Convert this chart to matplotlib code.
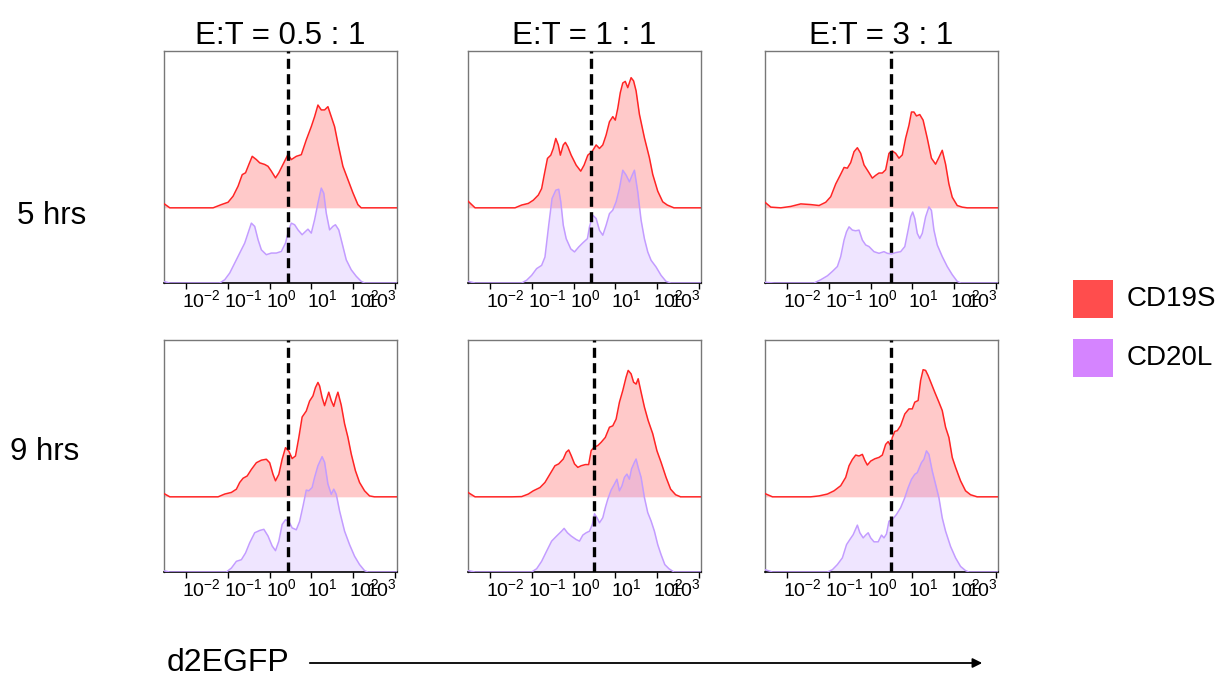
"""Flow histograms of d2EGFP: CD19S vs CD20L, E:T ratios x time points."""
import numpy as np
import matplotlib; matplotlib.use('Agg')
import matplotlib.pyplot as plt
from matplotlib.patches import Rectangle, FancyArrowPatch
from matplotlib.transforms import ScaledTranslation

plt.rcParams['font.family'] = ['Liberation Sans', 'DejaVu Sans']
plt.rcParams['mathtext.default'] = 'regular'

# ── data: x = log10(d2EGFP), y = % of panel height above each baseline ──
ratios = ['E:T = 0.5 : 1', 'E:T = 1 : 1', 'E:T = 3 : 1']
times = ['5 hrs', '9 hrs']
series_names = ['CD19S', 'CD20L']
tick_exp = [-2, -1, 0, 1, 2, 3]
tick_labels = ['$10^{-2}$', '$10^{-1}$', '$10^{0}$', '$10^{1}$', '$10^{2}$', '$10^{3}$']
gate_log = [[0.44, 0.42, 0.50], [0.45, 0.50, 0.50]]
red_offset = 32.4

# 5 hrs, E:T 0.5:1
r5a_x = [-2.54, -2.4, -1.36, -1.16, -1.0, -0.88, -0.76, -0.66, -0.58, -0.5, -0.42, -0.32, -0.24, -0.12,
         -0.04, 0.04, 0.14, 0.22, 0.32, 0.44, 0.52, 0.64, 0.76, 0.88, 1.0, 1.08, 1.16, 1.24, 1.32, 1.4,
         1.48, 1.56, 1.64, 1.76, 1.88, 2.0, 2.12, 2.2, 3.1]
r5a_y = [1.8, 0, 0, 1.4, 2.4, 5.0, 9.3, 14.3, 15.1, 18.7, 22.2, 20.8, 19.4, 18.7,
         17.9, 15.8, 12.9, 15.1, 18.7, 23.0, 20.8, 22.2, 22.9, 29.3, 35.0, 39.3, 44.3, 42.2, 42.2, 43.6,
         39.3, 35.0, 27.8, 17.9, 12.2, 6.5, 1.4, 0, 0]
p5a_x = [-2.54, -2.4, -1.2, -1.08, -0.96, -0.84, -0.72, -0.6, -0.52, -0.44, -0.36, -0.28, -0.2, -0.08,
         0.04, 0.16, 0.28, 0.38, 0.46, 0.52, 0.6, 0.68, 0.78, 0.86, 0.92, 1.0, 1.08, 1.16, 1.24, 1.3,
         1.36, 1.44, 1.52, 1.58, 1.66, 1.74, 1.84, 1.96, 2.08, 2.2, 2.28, 3.1]
p5a_y = [0.6, 0, 0, 1.4, 4.3, 8.6, 12.9, 17.2, 21.5, 25.8, 24.4, 18.7, 14.3, 12.2,
         12.9, 12.9, 13.6, 17.2, 22.9, 25.8, 25.1, 22.9, 20.8, 22.2, 23.2, 21.5, 27.3, 34.4, 40.9, 38.7,
         30.1, 22.9, 24.4, 25.1, 22.9, 17.2, 10.0, 5.7, 2.9, 0.7, 0, 0]

# 5 hrs, E:T 1:1
r5b_x = [-2.54, -2.37, -1.41, -1.25, -1.09, -0.97, -0.85, -0.77, -0.71, -0.63, -0.55, -0.49, -0.43, -0.37,
         -0.32, -0.25, -0.2, -0.14, -0.06, 0.06, 0.17, 0.25, 0.34, 0.44, 0.54, 0.62, 0.7, 0.78, 0.86,
         0.94, 1.0, 1.06, 1.12, 1.18, 1.24, 1.3, 1.38, 1.44, 1.5, 1.58, 1.7, 1.82, 1.9, 2.02, 2.14,
         2.25, 2.41, 3.1]
r5b_y = [2.9, 0, 0, 1.2, 1.9, 3.3, 5.5, 8.3, 14.0, 21.3, 22.7, 25.6, 29.9, 27.1,
         22.7, 27.1, 28.2, 26.3, 22.7, 18.4, 15.8, 18.4, 22.7, 24.2, 27.1, 25.6, 27.1, 31.4, 37.1,
         39.3, 37.8, 42.9, 49.6, 53.8, 54.5, 51.8, 56.1, 54.7, 50.4, 40.3, 30.2, 21.6, 14.4, 7.2, 2.6,
         1.2, 0, 0]
p5b_x = [-2.54, -2.37, -1.25, -1.13, -1.01, -0.89, -0.77, -0.69, -0.6, -0.52, -0.43, -0.36, -0.31, -0.25,
         -0.18, -0.07, 0.02, 0.12, 0.22, 0.33, 0.38, 0.46, 0.54, 0.62, 0.7, 0.78, 0.86, 0.94, 1.02,
         1.1, 1.18, 1.26, 1.34, 1.39, 1.46, 1.54, 1.62, 1.7, 1.78, 1.86, 1.98, 2.1, 2.22, 2.33, 3.1]
p5b_y = [0.7, 0, 0, 1.2, 3.3, 6.2, 7.6, 11.2, 24.9, 36.4, 40.0, 40.4, 35.0, 24.9,
         19.1, 14.7, 13.4, 15.5, 17.3, 19.1, 24.2, 29.2, 27.8, 22.7, 20.6, 24.9, 29.9, 31.4, 35.0,
         40.7, 48.6, 46.5, 43.6, 45.8, 48.6, 39.3, 27.1, 19.1, 13.4, 9.8, 6.9, 3.3, 0.7, 0, 0]

# 5 hrs, E:T 3:1
r5c_x = [-2.54, -2.4, -2.16, -1.92, -1.68, -1.44, -1.24, -1.08, -0.96, -0.84, -0.72, -0.64, -0.56, -0.48,
         -0.4, -0.32, -0.24, -0.16, -0.06, 0.04, 0.12, 0.2, 0.28, 0.36, 0.44, 0.52, 0.6, 0.68, 0.76,
         0.84, 0.92, 0.98, 1.04, 1.1, 1.18, 1.26, 1.36, 1.46, 1.56, 1.64, 1.72, 1.8, 1.88, 1.96, 2.08,
         2.2, 2.32, 3.1]
r5c_y = [2.4, 0.3, 0, 0.6, 1.7, 1.4, 1.0, 2.4, 4.8, 10.3, 14.5, 17.4, 17.1, 19.5,
         24.2, 25.9, 23.5, 18.5, 15.7, 12.8, 14.0, 15.0, 15.0, 16.4, 23.5, 24.5, 23.5, 21.4, 22.8,
         30.0, 35.6, 41.3, 41.3, 39.6, 40.2, 37.8, 30.0, 21.4, 18.8, 21.7, 24.8, 18.8, 10.3, 4.6, 1.0,
         0.3, 0, 0]
p5c_x = [-2.54, -2.32, -1.36, -1.2, -1.04, -0.92, -0.8, -0.72, -0.64, -0.58, -0.52, -0.44, -0.36, -0.28,
         -0.2, -0.12, -0.04, 0.08, 0.2, 0.32, 0.4, 0.5, 0.6, 0.72, 0.82, 0.9, 0.96, 1.01, 1.06, 1.12,
         1.18, 1.24, 1.32, 1.4, 1.46, 1.52, 1.6, 1.72, 1.84, 1.96, 2.08, 2.16, 3.1]
p5c_y = [0.3, 0, 0, 1.4, 3.1, 5.0, 7.1, 11.4, 18.5, 22.1, 24.2, 22.8, 22.5, 22.8,
         18.5, 16.4, 15.7, 13.5, 12.8, 13.5, 12.8, 12.5, 13.1, 13.5, 15.7, 22.8, 28.5, 30.6, 27.8, 21.4,
         19.2, 21.4, 28.5, 32.8, 31.3, 22.8, 16.4, 11.4, 7.1, 3.6, 0.7, 0, 0]

# 9 hrs, E:T 0.5:1
r9a_x = [-2.54, -2.4, -1.24, -1.08, -0.92, -0.8, -0.72, -0.64, -0.54, -0.44, -0.32, -0.2, -0.08, 0.0,
         0.08, 0.14, 0.22, 0.3, 0.38, 0.46, 0.54, 0.62, 0.7, 0.78, 0.88, 0.96, 1.04, 1.1, 1.16, 1.2,
         1.26, 1.32, 1.38, 1.42, 1.48, 1.54, 1.6, 1.64, 1.72, 1.8, 1.88, 1.96, 2.06, 2.16, 2.28, 2.4,
         2.52, 3.1]
r9a_y = [1.4, 0, 0, 1.2, 1.9, 3.3, 6.2, 8.0, 9.0, 11.8, 14.7, 15.8, 16.2, 14.7,
         9.7, 6.9, 9.7, 16.2, 21.2, 19.7, 16.5, 17.6, 25.5, 34.4, 37.0, 41.3, 43.5, 47.1, 49.3, 47.8,
         42.8, 39.3, 42.8, 45.1, 41.5, 39.0, 43.0, 45.1, 39.5, 31.5, 25.7, 18.5, 11.3, 6.2, 2.6, 0.4,
         0, 0]
p9a_x = [-2.54, -2.4, -1.04, -0.92, -0.8, -0.68, -0.58, -0.48, -0.36, -0.24, -0.14, -0.04, 0.06, 0.14,
         0.22, 0.3, 0.38, 0.46, 0.54, 0.64, 0.72, 0.8, 0.88, 0.94, 1.02, 1.08, 1.16, 1.26, 1.32, 1.4,
         1.48, 1.54, 1.6, 1.68, 1.8, 1.92, 2.04, 2.16, 2.28, 2.36, 3.1]
p9a_y = [0.5, 0, 0, 1.7, 4.6, 5.3, 8.2, 12.6, 16.9, 17.9, 18.4, 15.5, 11.2, 9.2,
         13.3, 20.5, 22.5, 21.8, 19.0, 18.2, 21.8, 28.3, 35.3, 35.0, 36.4, 40.8, 45.8, 49.7, 47.3, 37.9,
         33.5, 35.7, 33.5, 26.3, 17.6, 11.8, 6.8, 3.2, 0.6, 0, 0]

# 9 hrs, E:T 1:1
r9b_x = [-2.54, -2.37, -1.49, -1.25, -1.09, -0.97, -0.81, -0.69, -0.57, -0.45, -0.36, -0.25, -0.18, -0.12,
         -0.06, 0.02, 0.1, 0.18, 0.28, 0.36, 0.42, 0.49, 0.58, 0.66, 0.76, 0.86, 0.94, 1.02, 1.1, 1.18,
         1.26, 1.31, 1.38, 1.44, 1.5, 1.55, 1.62, 1.7, 1.79, 1.9, 2.0, 2.1, 2.22, 2.33, 2.45, 2.57, 3.1]
r9b_y = [1.9, 0, 0, 0.1, 1.2, 2.6, 4.0, 6.2, 9.8, 13.4, 14.2, 16.3, 19.2, 20.2,
         17.8, 14.2, 12.7, 13.4, 13.9, 13.9, 19.9, 21.4, 22.1, 23.5, 25.6, 30.0, 30.6, 33.5, 40.8, 45.8,
         51.6, 54.5, 53.0, 49.4, 48.6, 50.9, 45.1, 38.7, 32.9, 27.2, 19.9, 14.9, 8.4, 3.3, 0.9, 0, 0]
p9b_x = [-2.54, -2.37, -1.01, -0.89, -0.77, -0.65, -0.53, -0.41, -0.29, -0.23, -0.15, -0.06, 0.06, 0.14,
         0.22, 0.3, 0.38, 0.45, 0.5, 0.56, 0.62, 0.7, 0.76, 0.82, 0.9, 0.98, 1.04, 1.1, 1.16, 1.22,
         1.28, 1.34, 1.39, 1.46, 1.5, 1.55, 1.62, 1.7, 1.78, 1.86, 1.94, 2.02, 2.1, 2.19, 2.29, 2.41, 3.1]
p9b_y = [0.6, 0, 0, 1.4, 4.6, 9.0, 13.3, 15.5, 17.6, 18.8, 16.9, 15.5, 14.0, 13.3,
         15.9, 16.9, 17.6, 20.5, 25.1, 23.4, 21.2, 23.4, 27.7, 31.4, 35.3, 37.9, 40.0, 35.0, 37.1, 40.8,
         42.2, 40.0, 44.4, 47.3, 48.7, 45.1, 40.8, 32.1, 25.6, 22.0, 17.6, 11.8, 7.5, 3.2, 1.4, 0, 0]

# 9 hrs, E:T 3:1
r9c_x = [-2.54, -2.36, -1.44, -1.24, -1.04, -0.88, -0.72, -0.6, -0.52, -0.44, -0.36, -0.28, -0.2, -0.14,
         -0.08, 0.0, 0.1, 0.2, 0.28, 0.36, 0.42, 0.48, 0.52, 0.58, 0.64, 0.72, 0.82, 0.92, 1.0, 1.06,
         1.14, 1.2, 1.26, 1.32, 1.38, 1.46, 1.54, 1.64, 1.72, 1.8, 1.88, 1.96, 2.04, 2.16, 2.28, 2.4,
         2.56, 3.1]
r9c_y = [1.4, 0, 0, 0.4, 1.2, 2.6, 4.8, 8.4, 13.4, 16.1, 18.0, 17.6, 18.3, 15.7,
         13.7, 15.4, 16.4, 17.0, 18.0, 22.6, 23.8, 22.0, 25.6, 28.2, 28.5, 30.7, 35.7, 37.9, 37.9, 40.8,
         41.5, 50.1, 54.8, 54.5, 52.3, 48.7, 45.1, 40.8, 37.2, 30.0, 25.6, 17.0, 12.7, 6.9, 2.6, 0.9,
         0, 0]
p9c_x = [-2.54, -2.36, -1.04, -0.92, -0.8, -0.68, -0.58, -0.5, -0.42, -0.32, -0.26, -0.18, -0.12, -0.06,
         0.0, 0.08, 0.18, 0.26, 0.32, 0.38, 0.44, 0.52, 0.62, 0.72, 0.82, 0.9, 0.98, 1.06, 1.12, 1.22,
         1.28, 1.34, 1.4, 1.48, 1.56, 1.64, 1.72, 1.8, 1.92, 2.04, 2.16, 2.28, 2.36, 3.1]
p9c_y = [1.0, 0, 0, 1.0, 3.2, 6.1, 11.8, 14.0, 16.1, 20.2, 16.9, 14.7, 15.9, 16.9,
         14.7, 13.0, 13.0, 15.9, 14.7, 16.4, 21.9, 22.6, 24.8, 27.7, 32.0, 36.3, 39.9, 42.1, 42.8, 47.1,
         48.6, 52.2, 50.7, 43.5, 37.8, 32.0, 23.3, 17.6, 11.0, 6.1, 2.4, 0.6, 0, 0]

red_curves = [[(r5a_x, r5a_y), (r5b_x, r5b_y), (r5c_x, r5c_y)],
              [(r9a_x, r9a_y), (r9b_x, r9b_y), (r9c_x, r9c_y)]]
pur_curves = [[(p5a_x, p5a_y), (p5b_x, p5b_y), (p5c_x, p5c_y)],
              [(p9a_x, p9a_y), (p9b_x, p9b_y), (p9c_x, p9c_y)]]

# ── style / layout ──
W, H = 1219, 677
RED_LINE, RED_FILL = '#ff2424', '#ffc9c9'
PUR_LINE, PUR_FILL = '#c39cff', '#a970ff'
LEG_COLORS = ['#ff4d4d', '#d584ff']
col_left = [164, 468, 765]
row_top = [51, 340]
PW, PH = 233, 232
XLIM = (10 ** -2.54, 10 ** 3.06)

def fig_box(x0, y0, w, h):
    return [x0 / W, 1 - (y0 + h) / H, w / W, h / H]

fig = plt.figure(figsize=(W / 100, H / 100), dpi=100)
fig.patch.set_facecolor('white')

for ri in range(2):
    for ci in range(3):
        ax = fig.add_axes(fig_box(col_left[ci], row_top[ri], PW, PH))
        rx, ry = red_curves[ri][ci]
        px_, py_ = pur_curves[ri][ci]
        rx = 10 ** np.array(rx); ry = red_offset + np.array(ry)
        px_ = 10 ** np.array(px_); py_ = np.array(py_)
        ax.fill_between(rx, red_offset, ry, color=RED_FILL, lw=0, zorder=1)
        ax.fill_between(px_, 0, py_, color=PUR_FILL, alpha=0.18, lw=0, zorder=2)
        ax.plot(rx, ry, color=RED_LINE, lw=1.1, zorder=3)
        ax.plot(px_, py_, color=PUR_LINE, lw=1.1, zorder=3)
        ax.axvline(10 ** gate_log[ri][ci], color='black', lw=2.4, dashes=(3, 1.6), zorder=4)

        ax.set_xscale('log')
        ax.set_xlim(*XLIM)
        ax.set_ylim(0, 100)
        ax.set_yticks([])
        ax.set_xticks([10.0 ** e for e in tick_exp])
        ax.set_xticklabels([])
        ax.tick_params(axis='x', which='major', length=4, width=1, direction='out', color='black')
        ax.tick_params(axis='x', which='minor', length=2, width=0.8, direction='out', color='black')
        for side in ['left', 'top', 'right']:
            ax.spines[side].set_color('#777777')
            ax.spines[side].set_linewidth(1.0)
        ax.spines['bottom'].set_color('black')
        ax.spines['bottom'].set_linewidth(1.2)

        # decade labels, left-aligned at the tick like the cytometry software does
        for k, (e, lab) in enumerate(zip(tick_exp, tick_labels)):
            last = k == len(tick_exp) - 1
            off = ScaledTranslation((2 if last else -4) / 100, -6 / 100, fig.dpi_scale_trans)
            ax.text(10.0 ** e, 0, lab, transform=ax.get_xaxis_transform() + off,
                    ha='right' if last else 'left', va='top', fontsize=14)

        if ri == 0:
            ax.set_title(ratios[ci], fontsize=22.5, pad=5)

# row labels
fig.text(17 / W, 1 - 216 / H, times[0], fontsize=22.5, ha='left', va='center')
fig.text(10 / W, 1 - 452 / H, times[1], fontsize=22.5, ha='left', va='center')

# legend
for i, (nm, cl) in enumerate(zip(series_names, LEG_COLORS)):
    y0 = 280 + i * 59
    fig.add_artist(Rectangle((1073 / W, 1 - (y0 + 38) / H), 40 / W, 38 / H,
                             transform=fig.transFigure, color=cl, lw=0))
    fig.text(1127 / W, 1 - (y0 + 19) / H, nm, fontsize=20, ha='left', va='center')

# x label with arrow
fig.text(167 / W, 1 - 663 / H, 'd2EGFP', fontsize=23, ha='left', va='center')
fig.add_artist(FancyArrowPatch((307 / W, 1 - 663 / H), (985 / W, 1 - 663 / H),
                               transform=fig.transFigure, arrowstyle='-|>',
                               mutation_scale=14, lw=1.3, color='black'))

fig.savefig('out.png', dpi=100)
